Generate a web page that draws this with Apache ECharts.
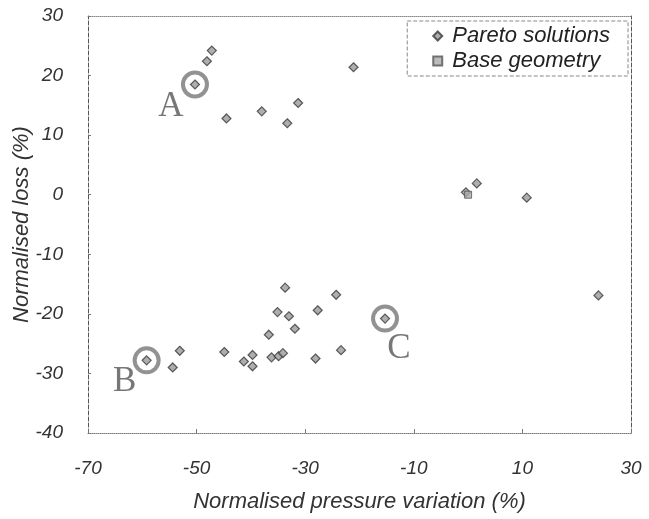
<!DOCTYPE html>
<html><head><meta charset="utf-8">
<script src="https://cdn.jsdelivr.net/npm/echarts@6/dist/echarts.min.js"></script>
<style>html,body{margin:0;padding:0;background:#fff}#c{width:649px;height:519px}</style>
</head><body><div id="c"></div>
<script>
// Pareto solutions (normalised pressure variation %, normalised loss %)
const paretoX = [-47.2,-48.1,-50.3,-44.5,-38.0,-33.3,-31.3,-21.1,
  1.6,-0.4,10.8,24.0,-15.3,
  -59.2,-53.1,-54.4,-44.9,-41.3,-39.7,-39.7,-36.7,-36.2,-34.9,-34.1,-35.1,-33.7,-33.0,-31.9,-28.1,-27.7,-24.3,-23.4];
const paretoY = [24.2,22.4,18.5,12.8,14.0,12.0,15.4,21.4,
  1.9,0.4,-0.5,-16.9,-20.8,
  -27.8,-26.2,-29.0,-26.4,-28.0,-26.9,-28.8,-23.5,-27.3,-27.1,-26.6,-19.7,-15.6,-20.4,-22.5,-27.5,-19.4,-16.8,-26.1];
// Base geometry
const baseX = [0];
const baseY = [0];
// Highlighted designs
const annotLabels = ['A','B','C'];
const annotX = [-50.3,-59.2,-15.3];
const annotY = [18.5,-27.8,-20.8];
// Axis ticks
const xMin = -70, xMax = 30, xStep = 20;
const yMin = -40, yMax = 30, yStep = 10;

const font = '"Liberation Sans", Arial, sans-serif';
const tick = {color:'#333', fontStyle:'italic', fontSize:19, fontFamily:font};
const nameTxt = {color:'#333', fontStyle:'italic', fontSize:22, fontFamily:font};
const chart = echarts.init(document.getElementById('c'));
chart.setOption({
  animation:false,
  backgroundColor:'#fff',
  grid:{left:88, right:18, top:16, bottom:86, containLabel:false, outerBoundsMode:'none'},
  legend:{
    orient:'vertical', right:21, top:21,
    borderColor:'#888', borderWidth:1, borderType:'dashed',
    padding:[4,18,4,25], itemGap:3, itemWidth:9, itemHeight:9,
    textStyle:{color:'#222', fontStyle:'italic', fontSize:22, fontFamily:font, padding:[0,0,0,5]},
    data:['Pareto solutions','Base geometry']
  },
  xAxis:[{
    type:'value', min:xMin, max:xMax, interval:xStep, position:'bottom',
    name:'Normalised pressure variation (%)', nameLocation:'middle', nameGap:58, nameMoveOverlap:false,
    nameTextStyle:nameTxt,
    axisLine:{show:true, onZero:false, lineStyle:{color:'#777', width:1, type:'dotted'}},
    axisTick:{show:true, inside:true, length:4, lineStyle:{color:'#777'}},
    axisLabel:Object.assign({margin:26}, tick),
    splitLine:{show:false}
  },{
    type:'value', min:xMin, max:xMax, interval:xStep, position:'top',
    axisLine:{show:true, onZero:false, lineStyle:{color:'#888', width:1, type:'dotted'}},
    axisTick:{show:false}, axisLabel:{show:false}, splitLine:{show:false}
  }],
  yAxis:[{
    type:'value', min:yMin, max:yMax, interval:yStep, position:'left',
    name:'Normalised loss (%)', nameLocation:'middle', nameGap:55, nameMoveOverlap:false,
    nameTextStyle:nameTxt,
    axisLine:{show:true, onZero:false, lineStyle:{color:'#555', width:1, type:'dashed'}},
    axisTick:{show:true, inside:true, length:3, lineStyle:{color:'#777'}},
    axisLabel:Object.assign({margin:25}, tick),
    splitLine:{show:false}
  },{
    type:'value', min:yMin, max:yMax, interval:yStep, position:'right',
    axisLine:{show:true, onZero:false, lineStyle:{color:'#555', width:1, type:'dashed'}},
    axisTick:{show:false}, axisLabel:{show:false}, splitLine:{show:false}
  }],
  series:[
    {
      name:'Pareto solutions', type:'scatter', symbol:'diamond', symbolSize:9,
      itemStyle:{color:'#9a9a9a', borderColor:'#3a3a3a', borderWidth:1.2},
      data:paretoX.map((x,i)=>[x,paretoY[i]]), z:3
    },
    {
      name:'Base geometry', type:'scatter', symbol:'rect', symbolSize:7,
      itemStyle:{color:'#aaaaaa', borderColor:'#555', borderWidth:1},
      data:baseX.map((x,i)=>[x,baseY[i]]), z:4
    },
    {
      name:'highlight', type:'scatter', symbol:'circle', symbolSize:24,
      itemStyle:{color:'rgba(0,0,0,0)', borderColor:'#777', borderWidth:4},
      silent:true,
      data:annotX.map((x,i)=>({value:[x,annotY[i]], label:{offset: i===0?[-24,22]:(i===1?[-22,21]:[14,30])}})),
      label:{show:true, position:'inside', formatter:(p)=>annotLabels[p.dataIndex],
        fontFamily:'"Liberation Serif", "Times New Roman", serif', fontSize:35, color:'#555',
        align:'center', verticalAlign:'middle'},
      z:2
    }
  ]
});
</script></body></html>
